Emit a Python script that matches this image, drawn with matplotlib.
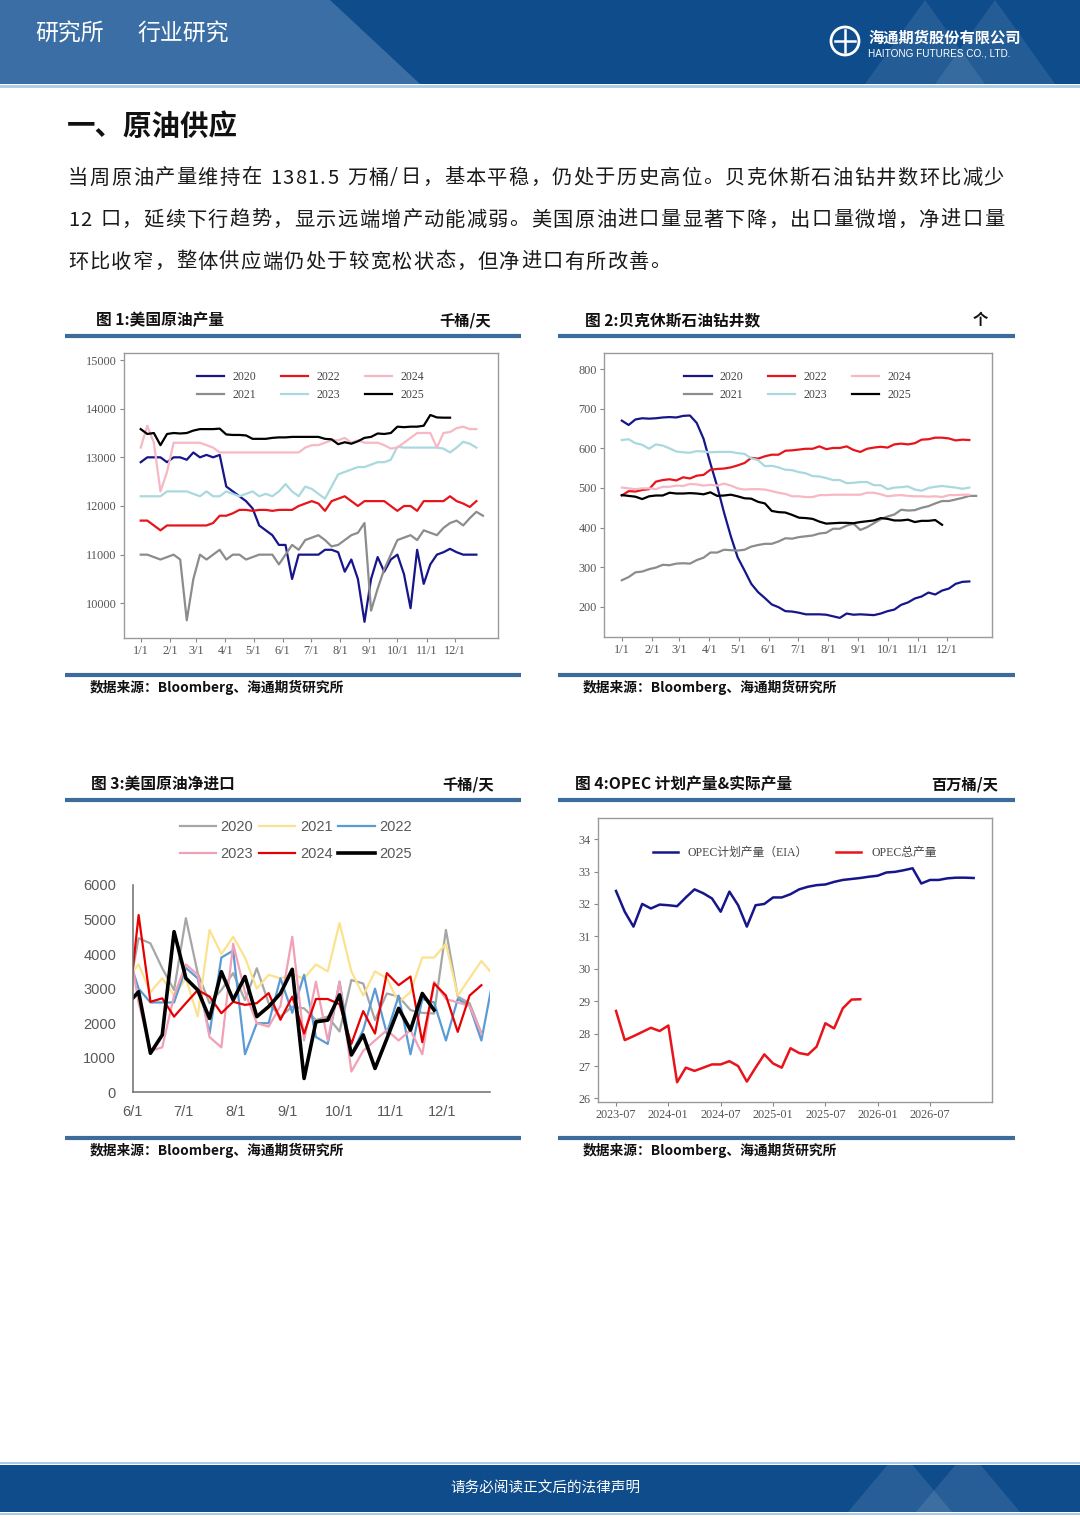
import numpy as np
import matplotlib
matplotlib.use('Agg')
import matplotlib.pyplot as plt
from matplotlib.patches import Rectangle, Polygon, Circle
from matplotlib.font_manager import FontProperties

plt.rcParams['font.family'] = ['Noto Sans CJK SC', 'DejaVu Sans']

W, H = 1080, 1527

# ---------------- data ----------------
years = ['2020', '2021', '2022', '2023', '2024', '2025']

# fig 1: US crude production, kb/d, weekly from 1/1
prod_2020 = [12900, 13000, 13000, 13000, 12900, 13000, 13000, 12950, 13100, 13000,
             13050, 13000, 13050, 12400, 12300, 12200, 12100, 11950, 11600, 11500,
             11400, 11200, 11200, 10500, 11000, 11000, 11000, 11000, 11100, 11100,
             11050, 10650, 10900, 10500, 9620, 10500, 10950, 10650, 10900, 11000,
             10600, 9900, 11100, 10400, 10800, 11000, 11050, 11120, 11050, 11000,
             11000, 11000]
prod_2021 = [11000, 11000, 10950, 10900, 10950, 11000, 10900, 9650, 10500, 11000,
             10900, 11000, 11100, 10900, 11000, 11000, 10900, 10950, 11000, 11000,
             11000, 10800, 11000, 11200, 11100, 11300, 11350, 11400, 11300, 11170,
             11200, 11300, 11400, 11450, 11650, 9850, 10300, 10700, 11000, 11300,
             11350, 11400, 11300, 11500, 11450, 11400, 11550, 11650, 11700, 11600,
             11750, 11880, 11800]
prod_2022 = [11700, 11700, 11600, 11500, 11600, 11600, 11600, 11600, 11600, 11600,
             11600, 11650, 11800, 11800, 11850, 11920, 11920, 11900, 11920, 11920,
             11900, 11920, 11920, 11920, 12000, 12050, 12100, 12050, 11900, 12100,
             12150, 12200, 12100, 12000, 12100, 12100, 12100, 12100, 12000, 11900,
             12000, 12000, 11900, 12100, 12100, 12100, 12100, 12200, 12100, 12050,
             11980, 12100]
prod_2023 = [12200, 12200, 12200, 12200, 12300, 12300, 12300, 12300, 12250, 12200,
             12300, 12200, 12200, 12300, 12250, 12200, 12250, 12300, 12200, 12250,
             12200, 12300, 12450, 12300, 12200, 12400, 12350, 12250, 12150, 12400,
             12650, 12700, 12750, 12800, 12800, 12850, 12900, 12900, 12950, 13220,
             13200, 13200, 13200, 13200, 13200, 13200, 13180, 13100, 13200, 13320,
             13280, 13200]
prod_2024 = [13200, 13650, 13300, 12300, 12700, 13300, 13300, 13300, 13300, 13300,
             13250, 13200, 13100, 13100, 13100, 13100, 13100, 13100, 13100, 13100,
             13100, 13100, 13100, 13100, 13100, 13200, 13250, 13250, 13300, 13350,
             13350, 13400, 13300, 13350, 13300, 13300, 13300, 13250, 13180, 13200,
             13300, 13400, 13500, 13500, 13500, 13200, 13500, 13520, 13600, 13630,
             13580, 13580]
prod_2025 = [13580, 13480, 13500, 13250, 13480, 13500, 13490, 13500, 13550, 13580,
             13580, 13580, 13590, 13470, 13460, 13460, 13450, 13380, 13380, 13380,
             13400, 13410, 13410, 13420, 13420, 13420, 13420, 13420, 13380, 13370,
             13270, 13310, 13280, 13330, 13400, 13420, 13490, 13480, 13500, 13630,
             13620, 13630, 13630, 13650, 13870, 13820, 13815, 13815]

# fig 2: Baker Hughes oil rigs, weekly from 1/1
rig_2020 = [670, 659, 673, 676, 675, 676, 678, 679, 678, 682, 683, 664, 624, 562, 504,
            438, 378, 325, 292, 258, 237, 222, 206, 199, 189, 188, 185, 181, 181, 181,
            180, 176, 172, 183, 180, 181, 180, 179, 183, 189, 193, 205, 211, 221, 226,
            236, 231, 241, 246, 258, 263, 264]
rig_2021 = [267, 275, 287, 289, 295, 299, 306, 305, 309, 310, 309, 318, 324, 337, 337,
            344, 343, 342, 344, 352, 356, 359, 359, 365, 373, 372, 376, 378, 380, 385,
            387, 397, 397, 405, 410, 394, 401, 411, 421, 428, 433, 445, 443, 444, 450,
            454, 461, 467, 467, 471, 475, 480, 480]
rig_2022 = [481, 492, 491, 495, 497, 516, 520, 522, 519, 527, 524, 531, 533, 546, 548,
            549, 552, 557, 563, 576, 574, 580, 584, 584, 594, 595, 597, 599, 599, 605,
            598, 601, 601, 605, 596, 591, 599, 602, 604, 602, 610, 612, 610, 613, 622,
            623, 627, 627, 625, 620, 622, 621]
rig_2023 = [621, 623, 613, 609, 599, 610, 607, 600, 592, 590, 589, 593, 592, 590, 591,
            591, 591, 588, 586, 575, 570, 555, 556, 552, 546, 545, 540, 537, 530, 529,
            525, 520, 520, 512, 513, 515, 515, 507, 507, 497, 501, 502, 504, 496, 493,
            500, 503, 505, 503, 501, 498, 501]
rig_2024 = [501, 499, 497, 499, 499, 497, 503, 503, 506, 505, 510, 509, 506, 508, 506,
            511, 506, 499, 496, 497, 497, 496, 492, 488, 485, 479, 479, 477, 477, 482,
            482, 483, 483, 483, 483, 483, 488, 488, 484, 479, 481, 482, 480, 479, 479,
            478, 479, 477, 482, 482, 483, 483]
rig_2025 = [482, 480, 478, 472, 479, 481, 481, 488, 486, 486, 487, 486, 484, 489, 480,
            481, 483, 479, 474, 473, 465, 461, 442, 439, 438, 432, 425, 424, 422, 415,
            410, 411, 412, 412, 411, 414, 416, 418, 424, 422, 418, 418, 420, 414, 417,
            417, 419, 407]

month_starts = [0, 31, 59, 90, 120, 151, 181, 212, 243, 273, 304, 334]
month_labels = ['1/1', '2/1', '3/1', '4/1', '5/1', '6/1', '7/1', '8/1', '9/1',
                '10/1', '11/1', '12/1']

# fig 3: US crude net imports, kb/d, value at 6/1 then weekly
net_2020 = [3540, 4460, 4310, 3590, 2960, 5040, 3450, 2580, 2960, 3450, 2670, 3590,
            2580, 2190, 2480, 2430, 2090, 2190, 1760, 3250, 3150, 2090, 2860, 2770,
            2380, 2300, 2280, 4700, 2770, 2580, 1710]
net_2021 = [3500, 3700, 2900, 3300, 2800, 3300, 2200, 4700, 4000, 4500, 3900, 3000,
            3400, 3300, 3400, 3300, 3700, 3500, 4900, 3500, 2800, 3500, 3300, 2600,
            2900, 3900, 3900, 4300, 2800, 3300, 3800, 3400]
net_2022 = [3540, 3000, 2600, 2600, 2600, 3600, 3300, 1700, 3900, 4100, 1100, 2000,
            2000, 3300, 2300, 3400, 1600, 1400, 3200, 1100, 1800, 3000, 1700, 2800,
            1100, 2700, 2600, 1500, 2700, 2500, 1500, 3300]
net_2023 = [3600, 2600, 1200, 1300, 2800, 3700, 3400, 1600, 1300, 4300, 2900, 2000,
            1900, 2500, 4500, 1500, 3200, 1500, 3200, 600, 1200, 1500, 1800, 1500,
            1800, 1100, 3200, 2700, 2600, 2500, 1700]
net_2024 = [3540, 5130, 2620, 2720, 2190, 2580, 2960, 2770, 2290, 2620, 2530, 2580,
            2870, 2100, 2770, 1700, 2700, 2700, 2550, 1400, 2350, 1700, 3450, 3100,
            3350, 1450, 3150, 2800, 1750, 2800, 3100]
net_2025 = [2720, 2910, 1130, 1660, 4650, 3300, 2960, 2140, 3490, 2670, 3350, 2190,
            2480, 2860, 3560, 400, 2040, 2090, 2820, 1080, 1660, 690, 1550, 2430, 1800,
            2860, 2380]
net_ticks = [0, 30, 61, 92, 122, 153, 183]
net_labels = ['6/1', '7/1', '8/1', '9/1', '10/1', '11/1', '12/1']

# fig 4: OPEC planned vs actual output, mb/d, monthly from 2023-07
opec_plan = [32.40, 31.76, 31.30, 32.00, 31.86, 31.98, 31.96, 31.93, 32.20, 32.45,
             32.33, 32.17, 31.76, 32.38, 31.96, 31.30, 31.96, 32.00, 32.20, 32.20,
             32.30, 32.45, 32.53, 32.58, 32.60, 32.68, 32.74, 32.77, 32.80, 32.84,
             32.87, 32.97, 32.99, 33.04, 33.10, 32.63, 32.74, 32.74, 32.79, 32.81,
             32.81, 32.80]
opec_total = [28.70, 27.80, 27.92, 28.05, 28.18, 28.08, 28.25, 26.50, 26.95, 26.85,
              26.95, 27.05, 27.05, 27.15, 27.00, 26.52, 26.95, 27.36, 27.08, 26.95,
              27.55, 27.40, 27.35, 27.60, 28.32, 28.16, 28.78, 29.05, 29.06]
opec_ticks = ['2023-07', '2024-01', '2024-07', '2025-01', '2025-07', '2026-01', '2026-07']

para = ['当周原油产量维持在 1381.5 万桶/日，基本平稳，仍处于历史高位。贝克休斯石油钻井数环比减少',
        '12 口，延续下行趋势，显示远端增产动能减弱。美国原油进口量显著下降，出口量微增，净进口量',
        '环比收窄，整体供应端仍处于较宽松状态，但净进口有所改善。']

# ---------------- page ----------------
fig = plt.figure(figsize=(W / 100, H / 100), dpi=100)
bg = fig.add_axes([0, 0, 1, 1])
bg.set_xlim(0, W)
bg.set_ylim(H, 0)
bg.axis('off')

dark = '#0f4c8c'
band = Rectangle((0, 0), W, 84, color=dark, lw=0)
bg.add_patch(band)
bg.add_patch(Polygon([(0, 0), (330, 0), (420, 84), (0, 84)], color='#3a6ea4', lw=0))
for cx in (925, 995):
    p = Polygon([(cx - 60, 84), (cx, 0), (cx + 60, 84)], color='white', alpha=0.09, lw=0)
    bg.add_patch(p)
bg.plot([0, W], [85.5, 85.5], color='#a9cbe8', lw=2)
bg.text(35, 34, '研究所', color='white', fontsize=16.5, va='center')
bg.text(137, 34, '行业研究', color='white', fontsize=16.5, va='center')
bg.add_patch(Circle((845, 41), 14, fill=False, ec='white', lw=2))
bg.plot([835, 855], [41, 41], color='white', lw=1.8)
bg.plot([845, 845], [30, 52], color='white', lw=1.8)
bg.text(868, 38, '海通期货股份有限公司', color='white', fontsize=11, fontweight='bold', va='center')
bg.text(868, 53, 'HAITONG FUTURES CO., LTD.', color='white', fontsize=7.2,
        family='Liberation Sans', va='center')

foot = Rectangle((0, 1465), W, 47, color=dark, lw=0)
bg.add_patch(foot)
for cx in (900, 968):
    p = Polygon([(cx - 52, 1512), (cx, 1450), (cx + 52, 1512)], color='white', alpha=0.1, lw=0)
    p.set_clip_path(foot)
    bg.add_patch(p)
bg.plot([0, W], [1463, 1463], color='#a9cbe8', lw=1.5)
bg.plot([0, W], [1513.5, 1513.5], color='#a9cbe8', lw=1.5)
bg.text(545, 1488, '请务必阅读正文后的法律声明', color='white', fontsize=10.5,
        ha='center', va='center')

bg.text(67, 127, '一、原油供应', fontsize=20.5, fontweight='bold', va='center', color='#111')


def char_w(c, em):
    if ord(c) > 0x2000:
        return em
    return {' ': 0.3, '.': 0.3, '/': 0.45}.get(c, 0.55) * em


def text_line(y, s, x0, size, x1=None, gap=0):
    em = size * 100 / 72
    ws = [char_w(c, em) for c in s]
    if x1 is not None:
        gap = (x1 - x0 - ws[-1] - sum(ws[:-1])) / (len(s) - 1)
    x = x0
    for c, w in zip(s, ws):
        if c != ' ':
            bg.text(x, y, c, fontsize=size, va='center', color='#1a1a1a')
        x += w + gap
    return gap


g1 = text_line(178, para[0], 68, 14.6, x1=1004)
g2 = text_line(220, para[1], 68, 14.6, x1=1004)
text_line(262, para[2], 68, 14.6, gap=(g1 + g2) / 2)

rule = '#3d6c9b'
panels = [(65, 521, 336, 675, 96, 491, '图 1:美国原油产量', '千桶/天', 90, 687),
          (558, 1015, 336, 675, 585, 988, '图 2:贝克休斯石油钻井数', '个', 583, 687),
          (65, 521, 800, 1138, 91, 494, '图 3:美国原油净进口', '千桶/天', 90, 1150),
          (558, 1015, 800, 1138, 575, 998, '图 4:OPEC 计划产量&实际产量', '百万桶/天', 583, 1150)]
for xa, xb, yt, yb, tx, ux, title, unit, sx, sy in panels:
    bg.plot([xa, xb], [yt, yt], color=rule, lw=3, solid_capstyle='butt')
    bg.plot([xa, xb], [yb, yb], color=rule, lw=3, solid_capstyle='butt')
    bg.text(tx, yt - 16, title, fontsize=11.3, fontweight='bold', va='center', color='#111')
    bg.text(ux, yt - 16, unit, fontsize=11, fontweight='bold', va='center', ha='right',
            color='#111')
    bg.text(sx, sy, '数据来源：Bloomberg、海通期货研究所', fontsize=9.9, fontweight='bold',
            va='center', color='#111')


def px_axes(x0, y0, x1, y1):
    return fig.add_axes([x0 / W, 1 - y1 / H, (x1 - x0) / W, (y1 - y0) / H])


serif = FontProperties(family='Liberation Serif', size=8.5)
serif_cjk = FontProperties(family=['Liberation Serif', 'Noto Sans CJK SC'], size=8.5)
year_colors = ['#16168a', '#8c8c8c', '#e8141c', '#a9d9df', '#f6b8c4', '#000000']


def box_style(ax):
    for s in ax.spines.values():
        s.set_color('#9a9a9a')
        s.set_linewidth(1)
    ax.tick_params(direction='out', length=3, width=0.8, color='#888', pad=2,
                   labelsize=8.8, labelcolor='#555', labelfontfamily='Liberation Serif',
                   top=False, right=False)


def season_chart(ax, series, ylim, yticks):
    for yr, vals, col in zip(years, series, year_colors):
        ax.plot(np.arange(len(vals)) * 7, vals, color=col, lw=1.6, label=yr)
    ax.set_xlim(-18.3, 380)
    ax.set_ylim(*ylim)
    ax.set_xticks(month_starts, month_labels)
    ax.set_yticks(yticks)
    box_style(ax)
    leg = ax.legend(ncol=3, loc='upper center', bbox_to_anchor=(0.5, 0.975), frameon=False,
                    prop=serif, handlelength=2.3, handletextpad=0.7, columnspacing=2.1,
                    labelspacing=0.5)
    for t in leg.get_texts():
        t.set_color('#444')


ax1 = px_axes(123.5, 353.3, 498, 638.3)
season_chart(ax1, [prod_2020, prod_2021, prod_2022, prod_2023, prod_2024, prod_2025],
             (9281, 15138), range(10000, 15001, 1000))

ax2 = px_axes(604, 353.3, 991.7, 637.3)
season_chart(ax2, [rig_2020, rig_2021, rig_2022, rig_2023, rig_2024, rig_2025],
             (123, 840), range(200, 801, 100))

# fig 3
ax3 = px_axes(132.7, 885, 490, 1092.3)
ax3.set_facecolor('none')
net_colors = ['#a6a6a6', '#fbe28f', '#5b9bd5', '#f2a0b5', '#e60000', '#000000']
net_series = [net_2020, net_2021, net_2022, net_2023, net_2024, net_2025]
lines = []
for yr, vals, col in zip(years, net_series, net_colors):
    days = np.r_[0, 3.5 + 7 * np.arange(len(vals) - 1)]
    lw = 2.6 if yr == '2025' else 1.6
    ln, = ax3.plot(days, vals, color=col, lw=lw, label=yr)
    lines.append(ln)
ax3.set_xlim(0, 211.6)
ax3.set_ylim(0, 6000)
ax3.set_xticks(net_ticks, net_labels)
ax3.set_yticks(range(0, 6001, 1000))
for s in ['top', 'right']:
    ax3.spines[s].set_visible(False)
for s in ['left', 'bottom']:
    ax3.spines[s].set_color('#6e6e6e')
    ax3.spines[s].set_linewidth(1.1)
ax3.tick_params(length=0, labelsize=10.5, labelcolor='#595959',
                labelfontfamily='Liberation Sans')
ax3.tick_params(axis='y', pad=12)
ax3.tick_params(axis='x', pad=9)
order = [0, 3, 1, 4, 2, 5]
leg3 = ax3.legend([lines[i] for i in order], [years[i] for i in order], ncol=3,
                  loc='center', bbox_to_anchor=(0.456, 1.215), frameon=False,
                  prop=FontProperties(family='Liberation Sans', size=10.5),
                  handlelength=2.5, handletextpad=0.3, columnspacing=0.4, labelspacing=0.85)
for t in leg3.get_texts():
    t.set_color('#595959')

# fig 4
ax4 = px_axes(597.7, 817.7, 991.7, 1101.7)
ax4.plot(np.arange(len(opec_plan)), opec_plan, color='#16168a', lw=1.8,
         label='OPEC计划产量（EIA）')
ax4.plot(np.arange(len(opec_total)), opec_total, color='#e8141c', lw=1.8, label='OPEC总产量')
ax4.set_xlim(-2.1, 43.07)
ax4.set_ylim(25.9, 34.66)
ax4.set_xticks(np.arange(len(opec_ticks)) * 6, opec_ticks)
ax4.set_yticks(range(26, 35))
box_style(ax4)
leg4 = ax4.legend(ncol=2, loc='center', bbox_to_anchor=(0.5, 0.877), frameon=False,
                  prop=serif_cjk, handlelength=2.1, handletextpad=0.85, columnspacing=2.4)
for t in leg4.get_texts():
    t.set_color('#444')

fig.savefig('out.png', dpi=100)
